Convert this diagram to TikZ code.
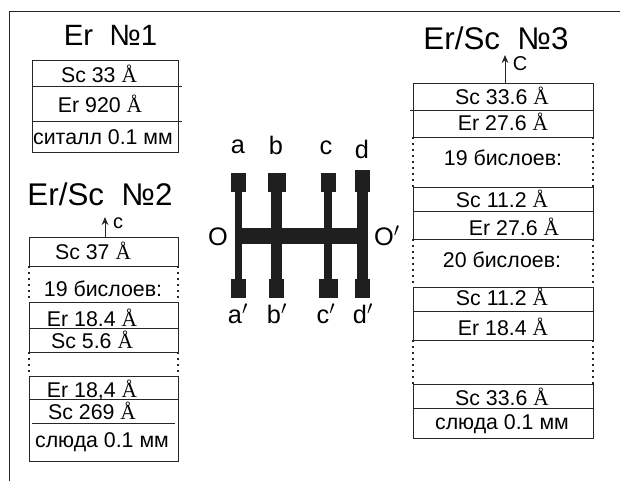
\documentclass[tikz,border=0pt]{standalone}
\usepackage{fontspec}
\setmainfont{Liberation Sans}
\newfontfamily\angfont{Liberation Serif}
\newcommand{\ang}{{\angfont Å}}
\usepackage{tikz}
\usetikzlibrary{arrows.meta,positioning}

\begin{document}
\begin{tikzpicture}[
    x=0.75pt, y=-0.75pt,
    title/.style={font=\fontsize{23.5}{26}\selectfont, anchor=base, inner sep=0pt},
    layertext/.style={font=\fontsize{16}{18}\selectfont, anchor=base, inner sep=0pt},
    letter/.style={font=\fontsize{19}{21}\selectfont, anchor=base, inner sep=0pt},
    edge/.style={draw=black!85, line width=0.7pt},
    dots/.style={draw=black!85, line width=0.8pt, dash pattern=on 1.5pt off 3pt},
    axis/.style={-{Stealth[length=6pt,width=5pt]}, black!85, line width=0.7pt},
    strip/.style={fill=black!88, draw=none}
]
\useasboundingbox (0,0) rectangle (620,481);

% Frame
\draw[edge] (9.5,481) -- (9.5,11) -- (620,11);

% Er No 1
\node[title, font=\fontsize{22}{26}\selectfont] (title1) at (110.5,46) {Er\ \ №1};
\draw[edge] (32,60) rectangle (178,152);
\draw[edge] (32,86) -- (182,86);
\draw[edge] (32,121) -- (182,121);
\foreach \i/\x/\y/\txt in {1/99/83/Sc 33 \ang, 2/100/113/Er 920 \ang, 3/103/145/ситалл 0.1 мм} {
    \node[layertext] (one\i) at (\x,\y) {\txt};
}

% Er/Sc No 2
\node[title] (title2) at (100,205) {Er/Sc\ \ №2};
\foreach \ya/\yb in {237/266, 302/352, 376/461} {
    \draw[edge] (29,\ya) rectangle (178,\yb);
}
\foreach \x in {29,178} {
    \draw[dots] (\x,266) -- (\x,302);
    \draw[dots] (\x,352) -- (\x,376);
}
\draw[edge] (29,328) -- (178,328);
\draw[edge] (29,399) -- (178,399);
\draw[edge] (32,423) -- (175,423);
\coordinate (top2) at (105,237);
\coordinate (tip2) at (105,217);
\draw[axis] (top2) -- (tip2);
\node[layertext, font=\fontsize{15}{17}\selectfont] (c2) at (118,228) {c};
\foreach \i/\x/\y/\txt in {1/93/259/Sc 37 \ang, 2/103/296/19 бислоев:, 3/92/326/Er 18.4 \ang, 4/92/348/Sc 5.6 \ang, {5/92/397/Er 18,4 \ang}, 6/92/419/Sc 269 \ang, 7/102/447/слюда 0.1 мм} {
    \node[layertext] (two\i) at (\x,\y) {\txt};
}

% Comb of strips
\foreach \x/\w/\hw/\bw/\ty in {238.5/7.5/15/15/173, 276.5/11/18/15/173, 328/8/15/19/173, 362.5/11/15/15/170} {
    \fill[strip] (\x-\w/2,190) rectangle (\x+\w/2,280);
    \fill[strip] (\x-\hw/2,\ty) rectangle (\x+\hw/2,192);
    \fill[strip] (\x-\bw/2,279) rectangle (\x+\bw/2,298);
}
\fill[strip] (234.5,228) rectangle (368,244);
\foreach \i/\x/\y/\txt in {a/238/153/a, b/276/154/b, c/326/154/c, d/362/158/d, o/218/245/O, op/387/245/O$'$, ap/238/323/a$'$, bp/277/323/b$'$, cp/326/323/c$'$, dp/363/323/d$'$} {
    \node[letter] (\i) at (\x,\y) {\txt};
}

% Er/Sc No 3
\node[title] (title3) at (496,49.5) {Er/Sc\ \ №3};
\foreach \ya/\yb in {83/137, 187/239, 287/340, 384/438} {
    \draw[edge] (413,\ya) rectangle (593,\yb);
}
\foreach \x in {413,593} {
    \draw[dots] (\x,137) -- (\x,187);
    \draw[dots] (\x,239) -- (\x,287);
    \draw[dots] (\x,340) -- (\x,384);
}
\draw[edge] (410,110) -- (593,110);
\foreach \y in {211,311,408} {
    \draw[edge] (413,\y) -- (593,\y);
}
\coordinate (top3) at (505,83);
\coordinate (tip3) at (505,55);
\draw[axis] (top3) -- (tip3);
\node[layertext, font=\fontsize{15}{17}\selectfont] (c3) at (520,71) {C};
\foreach \i/\x/\y/\txt in {1/502/105/Sc 33.6 \ang, 2/503/131/Er 27.6 \ang, 3/503/166/19 бислоев:, 4/502/207/Sc 11.2 \ang, 5/514/235/Er 27.6 \ang, 6/502/267/20 бислоев:, 7/502/305/Sc 11.2 \ang, 8/503/335/Er 18.4 \ang, 9/502/405/Sc 33.6 \ang, 10/502/429/слюда 0.1 мм} {
    \node[layertext] (three\i) at (\x,\y) {\txt};
}

\end{tikzpicture}
\end{document}
